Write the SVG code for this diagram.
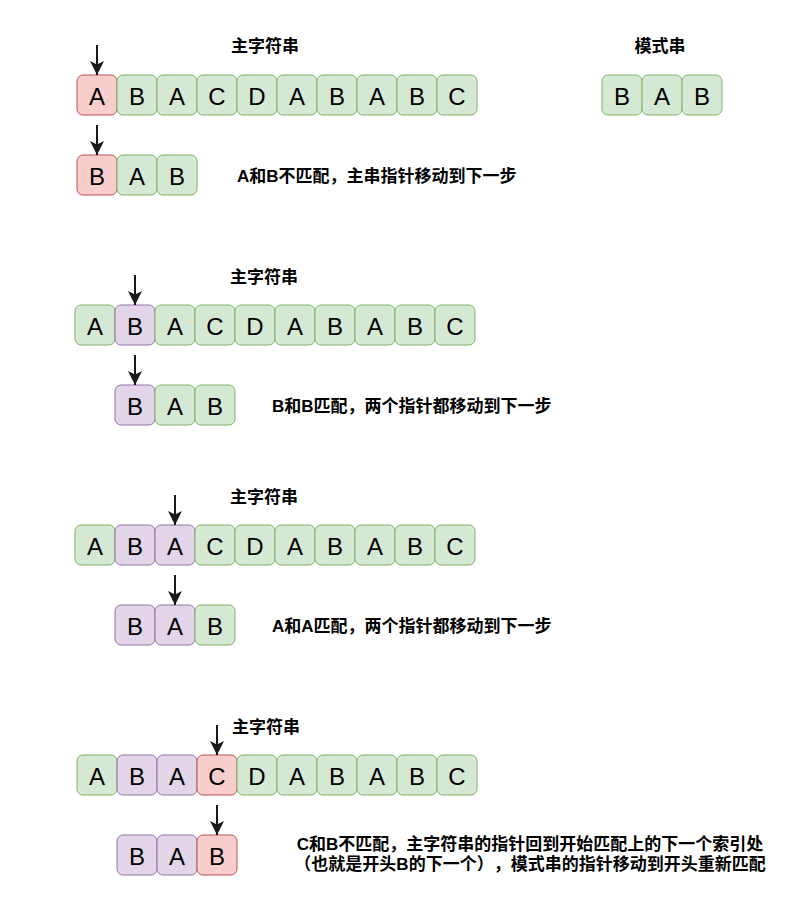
<svg xmlns="http://www.w3.org/2000/svg" width="809" height="923" viewBox="0 0 809 923">
<style>
.g{fill:#d5e8d4;stroke:#82b366;stroke-width:1}
.r{fill:#f8cecc;stroke:#b85450;stroke-width:1}
.p{fill:#e1d5e7;stroke:#9673a6;stroke-width:1}
.ch{font-family:"Liberation Sans",Arial,sans-serif;font-size:24px;fill:#000;text-anchor:middle;dominant-baseline:central}
.lb{font-family:"Liberation Sans","Noto Sans CJK SC",sans-serif;font-size:17px;font-weight:bold;fill:#000;dominant-baseline:central;text-spacing-trim:space-all}
.mid{text-anchor:middle}
.arr{stroke:#1a1a1a;stroke-width:2;fill:none;marker-end:url(#ah)}
</style>
<defs>
<marker id="ah" viewBox="0 0 14 14" refX="14" refY="7" markerWidth="14" markerHeight="14" markerUnits="userSpaceOnUse" orient="auto">
<path d="M0,0 L14,7 L0,14 L3.5,7 Z" fill="#1a1a1a"/>
</marker>
</defs>
<rect width="809" height="923" fill="#ffffff"/>

<!-- Row 1 -->
<g id="r1-title"><text class="lb mid" x="265" y="46">主字符串</text></g>
<g id="pat-title"><text class="lb mid" x="660" y="46">模式串</text></g>
<g id="r1m0"><rect class="r" x="77" y="75" width="40" height="40" rx="6"/><text class="ch" x="97" y="96">A</text></g>
<g id="r1m1"><rect class="g" x="117" y="75" width="40" height="40" rx="6"/><text class="ch" x="137" y="96">B</text></g>
<g id="r1m2"><rect class="g" x="157" y="75" width="40" height="40" rx="6"/><text class="ch" x="177" y="96">A</text></g>
<g id="r1m3"><rect class="g" x="197" y="75" width="40" height="40" rx="6"/><text class="ch" x="217" y="96">C</text></g>
<g id="r1m4"><rect class="g" x="237" y="75" width="40" height="40" rx="6"/><text class="ch" x="257" y="96">D</text></g>
<g id="r1m5"><rect class="g" x="277" y="75" width="40" height="40" rx="6"/><text class="ch" x="297" y="96">A</text></g>
<g id="r1m6"><rect class="g" x="317" y="75" width="40" height="40" rx="6"/><text class="ch" x="337" y="96">B</text></g>
<g id="r1m7"><rect class="g" x="357" y="75" width="40" height="40" rx="6"/><text class="ch" x="377" y="96">A</text></g>
<g id="r1m8"><rect class="g" x="397" y="75" width="40" height="40" rx="6"/><text class="ch" x="417" y="96">B</text></g>
<g id="r1m9"><rect class="g" x="437" y="75" width="40" height="40" rx="6"/><text class="ch" x="457" y="96">C</text></g>
<g id="pat0"><rect class="g" x="602" y="75" width="40" height="40" rx="6"/><text class="ch" x="622" y="96">B</text></g>
<g id="pat1"><rect class="g" x="642" y="75" width="40" height="40" rx="6"/><text class="ch" x="662" y="96">A</text></g>
<g id="pat2"><rect class="g" x="682" y="75" width="40" height="40" rx="6"/><text class="ch" x="702" y="96">B</text></g>
<g id="r1p0"><rect class="r" x="77" y="155" width="40" height="40" rx="6"/><text class="ch" x="97" y="176">B</text></g>
<g id="r1p1"><rect class="g" x="117" y="155" width="40" height="40" rx="6"/><text class="ch" x="137" y="176">A</text></g>
<g id="r1p2"><rect class="g" x="157" y="155" width="40" height="40" rx="6"/><text class="ch" x="177" y="176">B</text></g>
<g id="r1-label"><text class="lb" x="237" y="176">A和B不匹配，主串指针移动到下一步</text></g>

<!-- Row 2 -->
<g id="r2-title"><text class="lb mid" x="264" y="277">主字符串</text></g>
<g id="r2m0"><rect class="g" x="75" y="305" width="40" height="40" rx="6"/><text class="ch" x="95" y="326">A</text></g>
<g id="r2m1"><rect class="p" x="115" y="305" width="40" height="40" rx="6"/><text class="ch" x="135" y="326">B</text></g>
<g id="r2m2"><rect class="g" x="155" y="305" width="40" height="40" rx="6"/><text class="ch" x="175" y="326">A</text></g>
<g id="r2m3"><rect class="g" x="195" y="305" width="40" height="40" rx="6"/><text class="ch" x="215" y="326">C</text></g>
<g id="r2m4"><rect class="g" x="235" y="305" width="40" height="40" rx="6"/><text class="ch" x="255" y="326">D</text></g>
<g id="r2m5"><rect class="g" x="275" y="305" width="40" height="40" rx="6"/><text class="ch" x="295" y="326">A</text></g>
<g id="r2m6"><rect class="g" x="315" y="305" width="40" height="40" rx="6"/><text class="ch" x="335" y="326">B</text></g>
<g id="r2m7"><rect class="g" x="355" y="305" width="40" height="40" rx="6"/><text class="ch" x="375" y="326">A</text></g>
<g id="r2m8"><rect class="g" x="395" y="305" width="40" height="40" rx="6"/><text class="ch" x="415" y="326">B</text></g>
<g id="r2m9"><rect class="g" x="435" y="305" width="40" height="40" rx="6"/><text class="ch" x="455" y="326">C</text></g>
<g id="r2p0"><rect class="p" x="115" y="385" width="40" height="40" rx="6"/><text class="ch" x="135" y="406">B</text></g>
<g id="r2p1"><rect class="g" x="155" y="385" width="40" height="40" rx="6"/><text class="ch" x="175" y="406">A</text></g>
<g id="r2p2"><rect class="g" x="195" y="385" width="40" height="40" rx="6"/><text class="ch" x="215" y="406">B</text></g>
<g id="r2-label"><text class="lb" x="272" y="406">B和B匹配，两个指针都移动到下一步</text></g>

<!-- Row 3 -->
<g id="r3-title"><text class="lb mid" x="264" y="497">主字符串</text></g>
<g id="r3m0"><rect class="g" x="75" y="525" width="40" height="40" rx="6"/><text class="ch" x="95" y="546">A</text></g>
<g id="r3m1"><rect class="p" x="115" y="525" width="40" height="40" rx="6"/><text class="ch" x="135" y="546">B</text></g>
<g id="r3m2"><rect class="p" x="155" y="525" width="40" height="40" rx="6"/><text class="ch" x="175" y="546">A</text></g>
<g id="r3m3"><rect class="g" x="195" y="525" width="40" height="40" rx="6"/><text class="ch" x="215" y="546">C</text></g>
<g id="r3m4"><rect class="g" x="235" y="525" width="40" height="40" rx="6"/><text class="ch" x="255" y="546">D</text></g>
<g id="r3m5"><rect class="g" x="275" y="525" width="40" height="40" rx="6"/><text class="ch" x="295" y="546">A</text></g>
<g id="r3m6"><rect class="g" x="315" y="525" width="40" height="40" rx="6"/><text class="ch" x="335" y="546">B</text></g>
<g id="r3m7"><rect class="g" x="355" y="525" width="40" height="40" rx="6"/><text class="ch" x="375" y="546">A</text></g>
<g id="r3m8"><rect class="g" x="395" y="525" width="40" height="40" rx="6"/><text class="ch" x="415" y="546">B</text></g>
<g id="r3m9"><rect class="g" x="435" y="525" width="40" height="40" rx="6"/><text class="ch" x="455" y="546">C</text></g>
<g id="r3p0"><rect class="p" x="115" y="605" width="40" height="40" rx="6"/><text class="ch" x="135" y="626">B</text></g>
<g id="r3p1"><rect class="p" x="155" y="605" width="40" height="40" rx="6"/><text class="ch" x="175" y="626">A</text></g>
<g id="r3p2"><rect class="g" x="195" y="605" width="40" height="40" rx="6"/><text class="ch" x="215" y="626">B</text></g>
<g id="r3-label"><text class="lb" x="272" y="626">A和A匹配，两个指针都移动到下一步</text></g>

<!-- Row 4 -->
<g id="r4-title"><text class="lb" x="232" y="727">主字符串</text></g>
<g id="r4m0"><rect class="g" x="77" y="755" width="40" height="40" rx="6"/><text class="ch" x="97" y="776">A</text></g>
<g id="r4m1"><rect class="p" x="117" y="755" width="40" height="40" rx="6"/><text class="ch" x="137" y="776">B</text></g>
<g id="r4m2"><rect class="p" x="157" y="755" width="40" height="40" rx="6"/><text class="ch" x="177" y="776">A</text></g>
<g id="r4m3"><rect class="r" x="197" y="755" width="40" height="40" rx="6"/><text class="ch" x="217" y="776">C</text></g>
<g id="r4m4"><rect class="g" x="237" y="755" width="40" height="40" rx="6"/><text class="ch" x="257" y="776">D</text></g>
<g id="r4m5"><rect class="g" x="277" y="755" width="40" height="40" rx="6"/><text class="ch" x="297" y="776">A</text></g>
<g id="r4m6"><rect class="g" x="317" y="755" width="40" height="40" rx="6"/><text class="ch" x="337" y="776">B</text></g>
<g id="r4m7"><rect class="g" x="357" y="755" width="40" height="40" rx="6"/><text class="ch" x="377" y="776">A</text></g>
<g id="r4m8"><rect class="g" x="397" y="755" width="40" height="40" rx="6"/><text class="ch" x="417" y="776">B</text></g>
<g id="r4m9"><rect class="g" x="437" y="755" width="40" height="40" rx="6"/><text class="ch" x="457" y="776">C</text></g>
<g id="r4p0"><rect class="p" x="117" y="835" width="40" height="40" rx="6"/><text class="ch" x="137" y="856">B</text></g>
<g id="r4p1"><rect class="p" x="157" y="835" width="40" height="40" rx="6"/><text class="ch" x="177" y="856">A</text></g>
<g id="r4p2"><rect class="r" x="197" y="835" width="40" height="40" rx="6"/><text class="ch" x="217" y="856">B</text></g>
<g id="r4-label">
<text class="lb mid" x="530" y="844">C和B不匹配，主字符串的指针回到开始匹配上的下一个索引处</text>
<text class="lb mid" x="530" y="864">（也就是开头B的下一个），模式串的指针移动到开头重新匹配</text>
</g>

<g id="connectors">
<path class="arr" d="M97,45 L97,75"/>
<path class="arr" d="M97,125 L97,155"/>
<path class="arr" d="M135,275 L135,305"/>
<path class="arr" d="M135,355 L135,385"/>
<path class="arr" d="M175,495 L175,525"/>
<path class="arr" d="M175,575 L175,605"/>
<path class="arr" d="M217,725 L217,755"/>
<path class="arr" d="M217,805 L217,835"/>
</g>
</svg>
